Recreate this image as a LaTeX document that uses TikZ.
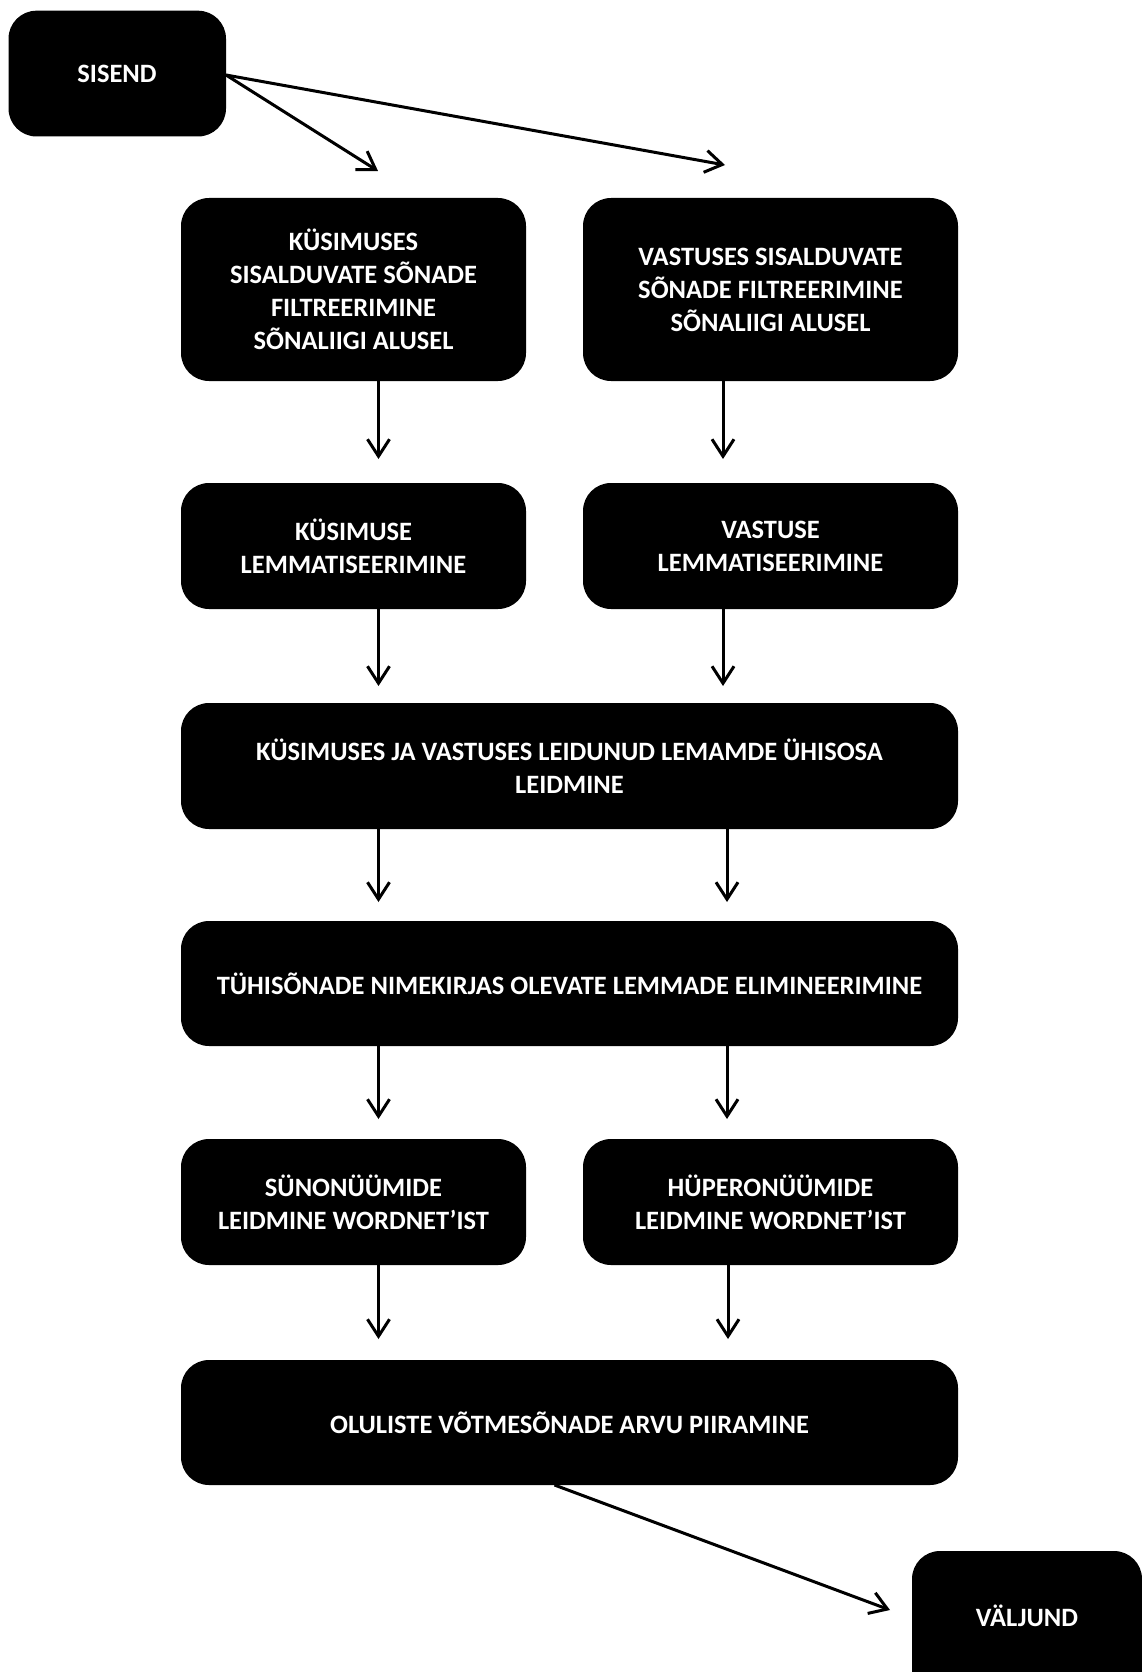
\documentclass[tikz,border=0pt]{standalone}
\usepackage{fontspec}
\setmainfont{Carlito}
\usetikzlibrary{arrows.meta}
\begin{document}
\begin{tikzpicture}[x=1pt,y=-1pt,
  stepbox/.style={fill=black, rounded corners=28pt},
  boxtext/.style={text=white, font=\bfseries\fontsize{26.5}{33}\selectfont, align=center},
  flow/.style={line width=3pt, -{Straight Barb[length=17pt,width=22pt,line width=3pt]}}]
\useasboundingbox (0,0) rectangle (1142,1672);
\begin{scope}
\clip (0,0) rectangle (1142,1672);
% boxes
\fill[stepbox] (8.5,10.7) rectangle (226,136.5);
\fill[stepbox] (181,198) rectangle (526,381);
\fill[stepbox] (583,198) rectangle (958,381);
\fill[stepbox] (181,483) rectangle (526,609);
\fill[stepbox] (583,483) rectangle (958,609);
\fill[stepbox] (181,703) rectangle (958,829);
\fill[stepbox] (181,921) rectangle (958,1046);
\fill[stepbox] (181,1139) rectangle (526,1265);
\fill[stepbox] (583,1139) rectangle (958,1265);
\fill[stepbox] (181,1360) rectangle (958,1485);
\fill[stepbox] (912,1551) rectangle (1142,1700);
\end{scope}
% labels
\node[boxtext] (sisend) at (117,74) {SISEND};
\node[boxtext] (kfilt) at (353.5,289.5) {KÜSIMUSES\\SISALDUVATE SÕNADE\\FILTREERIMINE\\SÕNALIIGI ALUSEL};
\node[boxtext] (vfilt) at (770.5,289.5) {VASTUSES SISALDUVATE\\SÕNADE FILTREERIMINE\\SÕNALIIGI ALUSEL};
\node[boxtext] (klem) at (353.5,546) {KÜSIMUSE\\LEMMATISEERIMINE};
\node[boxtext] (vlem) at (770.5,546) {VASTUSE\\LEMMATISEERIMINE};
\node[boxtext] (yhis) at (569.5,766) {KÜSIMUSES JA VASTUSES LEIDUNUD LEMAMDE ÜHISOSA\\LEIDMINE};
\node[boxtext] (tyhi) at (569.5,983.5) {TÜHISÕNADE NIMEKIRJAS OLEVATE LEMMADE ELIMINEERIMINE};
\node[boxtext] (syn) at (353.5,1202) {SÜNONÜÜMIDE\\LEIDMINE WORDNET’IST};
\node[boxtext] (hyp) at (770.5,1202) {HÜPERONÜÜMIDE\\LEIDMINE WORDNET’IST};
\node[boxtext] (piir) at (569.5,1423) {OLULISTE VÕTMESÕNADE ARVU PIIRAMINE};
\node[boxtext] (valj) at (1027,1616) {VÄLJUND};
% arrow end points
\coordinate (s0) at (226,75);
\coordinate (e1) at (378,171);
\coordinate (e2) at (725,165);
\coordinate (l1a) at (378.5,381);   \coordinate (l1b) at (378.5,459);
\coordinate (r1a) at (723,381);     \coordinate (r1b) at (723,459);
\coordinate (l2a) at (378.5,609);   \coordinate (l2b) at (378.5,686);
\coordinate (r2a) at (723,609);     \coordinate (r2b) at (723,686);
\coordinate (l3a) at (378.5,829);   \coordinate (l3b) at (378.5,902);
\coordinate (r3a) at (727,829);     \coordinate (r3b) at (727,902);
\coordinate (l4a) at (378.5,1046);  \coordinate (l4b) at (378.5,1119);
\coordinate (r4a) at (727,1046);    \coordinate (r4b) at (727,1119);
\coordinate (l5a) at (378.5,1265);  \coordinate (l5b) at (378.5,1339);
\coordinate (r5a) at (728,1265);    \coordinate (r5b) at (728,1339);
\coordinate (fa) at (554.5,1485);   \coordinate (fb) at (890,1610);
% connectors
\draw[flow] (s0) -- (e1);
\draw[flow] (s0) -- (e2);
\foreach \p in {l1,r1,l2,r2,l3,r3,l4,r4,l5,r5}
  \draw[flow] (\p a) -- (\p b);
\draw[flow] (fa) -- (fb);
\end{tikzpicture}
\end{document}
